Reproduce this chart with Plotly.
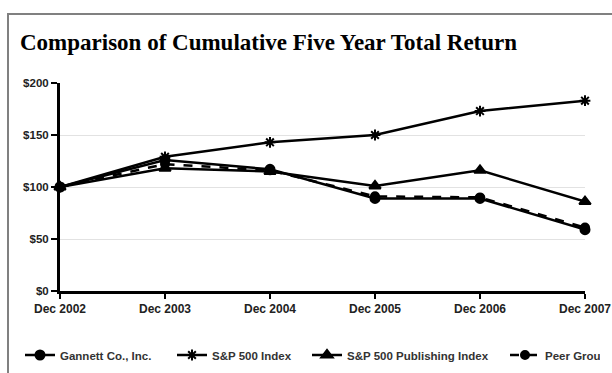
import plotly.graph_objects as go

# ---- data ----
years = ["Dec 2002", "Dec 2003", "Dec 2004", "Dec 2005", "Dec 2006", "Dec 2007"]
gannett = [100, 126, 117, 89, 89, 59]
sp500 = [100, 129, 143, 150, 173, 183]
sp_publishing = [100, 118, 115, 101, 116, 86]
peer_group = [100, 122, 116, 91, 90, 61]

series_names = ["Gannett Co., Inc.", "S&P 500 Index", "S&P 500 Publishing Index", "Peer Group"]
y_tick_vals = [0, 50, 100, 150, 200]
y_tick_text = ["$0", "$50", "$100", "$150", "$200"]

# ---- layout geometry ----
W, H = 612, 373
ML, MR, MT, MB = 60, 27, 83, 82
PW = W - ML - MR
PH = H - MT - MB


def px_x(px):
    return (px - ML) / PW


def px_y(py):
    return (H - MB - py) / PH


fig = go.Figure()

styles = [
    dict(symbol="circle", size=9, dash="solid", lw=107),
    dict(symbol="asterisk-open", size=9, dash="solid", lw=90),
    dict(symbol="triangle-up", size=10, dash="solid", lw=153),
    dict(symbol="circle", size=8, dash="dash", lw=50),
]
values = [gannett, sp500, sp_publishing, peer_group]

for name, vals, st in zip(series_names, values, styles):
    fig.add_trace(go.Scatter(
        x=years, y=vals, name=name, mode="lines+markers",
        line=dict(color="black", width=2.5, dash=st["dash"]),
        marker=dict(symbol=st["symbol"], size=st["size"], color="black",
                    line=dict(color="black", width=2)),
        cliponaxis=False,
        legendwidth=st["lw"],
    ))

fig.update_layout(
    width=W, height=H,
    margin=dict(l=ML, r=MR, t=MT, b=MB, autoexpand=False),
    paper_bgcolor="white", plot_bgcolor="white",
    title=dict(text="<b>Comparison of Cumulative Five Year Total Return</b>",
               x=20 / W, xanchor="left", xref="container",
               y=1 - 42 / H, yanchor="middle", yref="container",
               font=dict(family="Liberation Serif, Times New Roman, serif", size=23, color="black")),
    showlegend=True,
    legend=dict(orientation="h", x=px_x(20), xanchor="left",
                y=px_y(355), yanchor="middle",
                font=dict(family="Liberation Sans, Arial, sans-serif", size=11.5, color="#333333", weight="bold"),
                bgcolor="rgba(0,0,0,0)", itemwidth=30, tracegroupgap=0),
    xaxis=dict(type="category", range=[0, 5], showgrid=False,
               showline=True, linecolor="black", linewidth=3,
               ticks="outside", ticklen=5, tickwidth=2, tickcolor="black",
               tickfont=dict(family="Liberation Sans, Arial, sans-serif", size=12, color="#222222", weight="bold"),
               zeroline=False, fixedrange=True),
    yaxis=dict(range=[0, 200], tickvals=y_tick_vals, ticktext=y_tick_text,
               showgrid=True, gridcolor="#e2e2e2", gridwidth=1,
               showline=True, linecolor="black", linewidth=3,
               ticks="outside", ticklen=6, tickwidth=2, tickcolor="black",
               tickfont=dict(family="Liberation Sans, Arial, sans-serif", size=11.5, color="#222222", weight="bold"),
               zeroline=False, fixedrange=True),
    shapes=[
        dict(type="line", xref="paper", yref="paper",
             x0=px_x(8), x1=px_x(W + 5), y0=px_y(14), y1=px_y(14),
             line=dict(color="#808080", width=2)),
        dict(type="line", xref="paper", yref="paper",
             x0=px_x(8), x1=px_x(8), y0=px_y(13), y1=px_y(H + 5),
             line=dict(color="#808080", width=2)),
    ],
)

fig.write_html("out.html")
